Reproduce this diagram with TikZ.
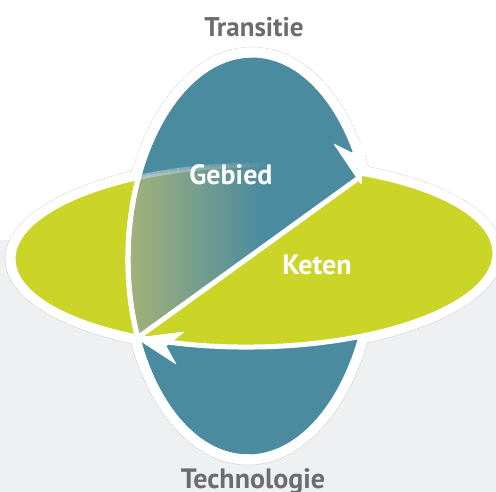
\documentclass[tikz,border=0pt]{standalone}
\usepackage{fontspec}
\setmainfont{PT Sans}
\definecolor{tblue}{RGB}{75,139,160}
\definecolor{tgreen}{RGB}{202,213,40}
\definecolor{tmix}{RGB}{163,178,120}
\definecolor{tglow}{RGB}{190,212,222}
\definecolor{bggray}{RGB}{239,240,242}
\definecolor{labgray}{RGB}{108,108,110}
\definecolor{halo}{RGB}{200,202,205}
\tikzset{
  blueel/.style={rotate around={-0.9:(250,256)}},
  greenel/.style={rotate around={0.8:(254,256)}},
  outl/.style={draw=white, line width=5pt},
  darklab/.style={inner sep=0pt, anchor=base, text=labgray},
  lightlab/.style={inner sep=0pt, anchor=base, text=white},
  arrowhd/.style={fill=white, draw=white, line width=0.6pt, line join=round}
}
\begin{document}
\begin{tikzpicture}[x=1pt,y=-1pt]
\useasboundingbox (0,0) rectangle (496,492);
\fill[white] (0,0) rectangle (496,492);
\fill[bggray] (0,240) rectangle (496,492);
% halo
\draw[blueel, halo, line width=0.5pt, dash pattern=on 2pt off 1pt] (250,256) ellipse [x radius=130pt, y radius=209pt];
\draw[greenel, halo, line width=0.5pt, dash pattern=on 2pt off 1pt] (254,256) ellipse [x radius=249pt, y radius=99pt];
\fill[blueel, white] (250,256) ellipse [x radius=129.5pt, y radius=208.5pt];
\fill[greenel, white] (254,256) ellipse [x radius=248.5pt, y radius=98.5pt];
% blue ellipse
\filldraw[blueel, fill=tblue, outl] (250,256) ellipse [x radius=122pt, y radius=201pt];
% green ellipse
\filldraw[greenel, fill=tgreen, outl] (254,256) ellipse [x radius=241pt, y radius=91pt];
% named points
\coordinate (L) at (140,336);
\coordinate (R) at (360,177);
% blue in front above the diagonal
\begin{scope}
  \clip[blueel] (250,256) ellipse [x radius=122pt, y radius=201pt];
  \clip (0,437.2) -- (496,78.7) -- (496,0) -- (0,0) -- cycle;
  \fill[tblue] (0,0) rectangle (496,492);
  \begin{scope}
    \clip[greenel] (254,256) ellipse [x radius=241pt, y radius=91pt];
    \shade[left color=tmix, right color=tblue] (128,0) rectangle (262,492);
  \end{scope}
  \foreach \i in {0,...,13} {
    \begin{scope}
      \clip (128+10*\i,0) rectangle (138.5+10*\i,492);
      \draw[greenel, tglow, line width=5pt, opacity={0.7*(1-\i/14)}] (254,256) ellipse [x radius=241pt, y radius=91pt];
    \end{scope}
  }
\end{scope}
% blue outline in front: upper part and left half
\begin{scope}
  \clip (0,437.2) -- (496,78.7) -- (496,0) -- (0,0) -- cycle;
  \draw[blueel, outl] (250,256) ellipse [x radius=122pt, y radius=201pt];
\end{scope}
\begin{scope}
  \clip (0,0) rectangle (250,492);
  \draw[blueel, outl] (250,256) ellipse [x radius=122pt, y radius=201pt];
\end{scope}
% diagonal
\draw[white, line width=5pt] (L) -- (R);
% arrowheads
\filldraw[arrowhd] (361,184) -- (334,144) -- (352,153) -- (367,137) -- cycle;
\filldraw[arrowhd] (136,338) -- (184,332) -- (166,346) -- (176,364) -- cycle;
% labels
\node[darklab, font=\fontsize{27}{27}\selectfont\bfseries] (transitie) at (254,37) {Transitie};
\node[darklab, font=\fontsize{28}{28}\selectfont\bfseries] (technologie) at (253,488) {Technologie};
\node[lightlab, font=\fontsize{28}{28}\selectfont\bfseries] (gebied) at (231,185) {Gebied};
\node[lightlab, font=\fontsize{28}{28}\selectfont\bfseries] (keten) at (317,275) {Keten};
\end{tikzpicture}
\end{document}
